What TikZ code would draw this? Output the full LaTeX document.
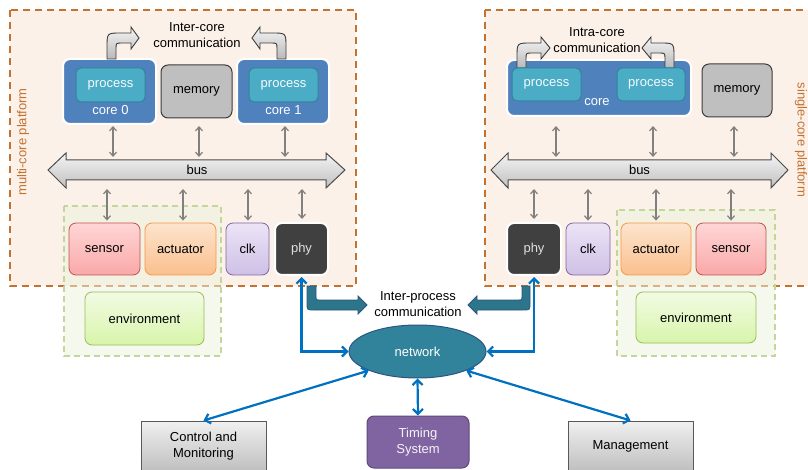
\documentclass[tikz,border=0pt]{standalone}
\usepackage{fontspec}
\setmainfont{Liberation Sans}
\usetikzlibrary{arrows.meta,shapes.geometric,calc}
\definecolor{platbg}{RGB}{252,241,233}
\definecolor{platline}{RGB}{196,114,48}
\definecolor{envline}{RGB}{195,214,155}
\definecolor{envbg}{RGB}{236,243,220}
\definecolor{coreblue}{RGB}{79,129,189}
\definecolor{procfill}{RGB}{75,172,198}
\definecolor{procline}{RGB}{49,133,155}
\definecolor{memfill}{RGB}{191,191,191}
\definecolor{darkline}{RGB}{60,60,60}
\definecolor{garrowc}{RGB}{128,128,128}
\definecolor{barrowc}{RGB}{0,112,192}
\definecolor{netfill}{RGB}{49,130,155}
\definecolor{netline}{RGB}{45,85,130}
\definecolor{senstop}{RGB}{255,214,214}
\definecolor{sensbot}{RGB}{250,168,168}
\definecolor{sensline}{RGB}{192,80,77}
\definecolor{acttop}{RGB}{253,228,205}
\definecolor{actbot}{RGB}{250,192,142}
\definecolor{actline}{RGB}{247,150,70}
\definecolor{clktop}{RGB}{236,228,246}
\definecolor{clkbot}{RGB}{206,192,230}
\definecolor{clkline}{RGB}{128,100,162}
\definecolor{phyfill}{RGB}{64,64,64}
\definecolor{envtop}{RGB}{242,251,228}
\definecolor{envbot}{RGB}{215,245,170}
\definecolor{envbline}{RGB}{155,187,89}
\definecolor{timfill}{RGB}{128,100,162}
\definecolor{timline}{RGB}{96,74,123}
\tikzset{
  sz/.style 2 args={minimum width=#1pt, minimum height=#2pt, inner sep=0pt},
  rbox/.style={rounded corners=7pt, align=center},
  corebox/.style={rbox, fill=coreblue, draw=white, line width=2pt, text=white},
  procbox/.style={rbox, rounded corners=5pt, fill=procfill, draw=procline, line width=1pt, text=white!95!procfill},
  membox/.style={rbox, fill=memfill, draw=darkline, line width=1pt},
  sensbox/.style={rbox, top color=senstop, bottom color=sensbot, draw=sensline, line width=0.8pt},
  actbox/.style={rbox, top color=acttop, bottom color=actbot, draw=actline, line width=0.8pt},
  clkbox/.style={rbox, top color=clktop, bottom color=clkbot, draw=clkline, line width=0.8pt},
  phybox/.style={rbox, fill=phyfill, draw=white, line width=2pt, text=black!12},
  envbox/.style={rbox, top color=envtop, bottom color=envbot, draw=envbline, line width=0.8pt},
  platform/.style={fill=platbg, draw=platline, line width=1.8pt, dash pattern=on 7pt off 5pt},
  envzone/.style={fill=envbg, fill opacity=0.5, draw=envline, draw opacity=1, line width=1.5pt, dash pattern=on 6pt off 4pt},
  garrow/.style={draw=garrowc, line width=1.2pt, {Straight Barb[length=4pt,width=7pt]}-{Straight Barb[length=4pt,width=7pt]}},
  barrow/.style={draw=barrowc, line width=2.2pt, {Straight Barb[length=5pt,width=10pt]}-{Straight Barb[length=5pt,width=10pt]}},
  curlyarrow/.style={draw=darkline, line width=0.9pt, top color=white!92!gray, bottom color=gray!55},
  busarrow/.style={draw=black!70, line width=1pt, top color=white!92!gray, bottom color=gray!50},
  iparrow/.style={fill=netfill!90!black, draw=netline, line width=0.8pt},
  graybox/.style={top color=black!6, bottom color=black!25, draw=black!65, line width=1pt, align=center},
}
\begin{document}
\begin{tikzpicture}[x=1pt,y=-1pt, font=\fontsize{13}{16}\selectfont]
\useasboundingbox (0,0) rectangle (808,470);
\fill[white] (0,0) rectangle (808,470);

% platforms
\path[platform] (10,10) rectangle (356,286);
\path[platform] (485,10) rectangle (818,286);
\node[rotate=90, text=platline] (lbl1) at (23,142) {multi-core platform};
\node[rotate=-90, text=platline] (lbl2) at (801,140) {single-core platform};

% environment zones
\path[envzone] (64,206) rectangle (221,356);
\path[envzone] (617,210) rectangle (775,356);

% ---------- left platform ----------
\node[align=center] (ictxt) at (197,35) {Inter-core\\communication};
\node[corebox, sz={93}{65}] (core0) at (109.5,91.5) {};
\node[corebox, sz={92}{65}] (core1) at (283,91.5) {};
\draw[curlyarrow] (107,59) -- (107,47) .. controls (107,33) .. (121,33) -- (131,33) -- (131,27) -- (139,38) -- (131,49) -- (131,43) -- (122,43) .. controls (116,43) .. (116,49) -- (116,59) -- cycle;
\draw[curlyarrow] (286,59) -- (286,47) .. controls (286,33) .. (272,33) -- (260,33) -- (260,27) -- (252,38) -- (260,49) -- (260,43) -- (271,43) .. controls (277,43) .. (277,49) -- (277,59) -- cycle;
\node[procbox, sz={69}{34}] (proc0) at (110.5,85) {process};
\node[procbox, sz={69}{34}] (proc1) at (283.5,85) {process};
\node[text=white] (c0lbl) at (110.5,110) {core 0};
\node[text=white] (c1lbl) at (283.5,110) {core 1};
\node[membox, sz={71}{53}] (mem1) at (196.5,91.5) {memory};

\draw[busarrow] (48,170) -- (66,153) -- (66,160) -- (326,160) -- (326,153) -- (345,170) -- (326,188) -- (326,180) -- (66,180) -- (66,188) -- cycle;
\node (bus1) at (197,170) {bus};

\node[sensbox, sz={71}{52}] (sen1) at (104.5,249) {sensor};
\node[actbox, sz={71}{52}] (act1) at (180.5,249) {actuator};
\node[clkbox, sz={43}{52}] (clk1) at (247.5,249) {clk};
\node[phybox, sz={53}{52}] (phy1) at (301.5,249) {phy};
\node[envbox, sz={119}{53}] (env1) at (144.5,318.5) {environment};

\coordinate (ct) at (0,126);
\coordinate (bt1) at (0,157);
\coordinate (bb1) at (0,189);
\draw[garrow] ([xshift=3.5pt]core0.south |- ct) -- ([xshift=3.5pt]core0.south |- bt1);
\draw[garrow] ([xshift=2.5pt]mem1.south |- ct) -- ([xshift=2.5pt]mem1.south |- bt1);
\draw[garrow] ([xshift=2pt]core1.south |- ct) -- ([xshift=2pt]core1.south |- bt1);
\draw[garrow] ([xshift=2.5pt]sen1.north |- bb1) -- ([xshift=2.5pt,yshift=2pt]sen1.north);
\draw[garrow] ([xshift=2.5pt]act1.north |- bb1) -- ([xshift=2.5pt,yshift=2pt]act1.north);
\draw[garrow] ([xshift=0.5pt]clk1.north |- bb1) -- ([xshift=0.5pt,yshift=2pt]clk1.north);
\draw[garrow] ([xshift=0.5pt]phy1.north |- bb1) -- ([xshift=0.5pt,yshift=3pt]phy1.north);

% ---------- right platform ----------
\node[align=center] (intxt) at (597,40) {Intra-core\\communication};
\node[corebox, sz={184}{56}] (core2) at (599,88) {};
\draw[curlyarrow] (517,68) -- (517,57) .. controls (517,43) .. (531,43) -- (541,43) -- (541,37) -- (550,48) -- (541,59) -- (541,53) -- (532,53) .. controls (526,53) .. (526,59) -- (526,68) -- cycle;
\draw[curlyarrow] (674,68) -- (674,57) .. controls (674,43) .. (660,43) -- (651,43) -- (651,37) -- (642,48) -- (651,59) -- (651,53) -- (659,53) .. controls (665,53) .. (665,59) -- (665,68) -- cycle;
\node[procbox, sz={69}{33}] (procA) at (546.5,84.5) {process};
\node[procbox, sz={68}{33}] (procB) at (651,84.5) {process};
\node[text=white] (c2lbl) at (597,102) {core};
\node[membox, sz={70}{53}] (mem2) at (737,90.5) {memory};

\draw[busarrow] (491,170) -- (508,153) -- (508,160) -- (771,160) -- (771,153) -- (788,170) -- (771,188) -- (771,180) -- (508,180) -- (508,188) -- cycle;
\node (bus2) at (639.5,170) {bus};

\node[phybox, sz={54}{52}] (phy2) at (534,249) {phy};
\node[clkbox, sz={44}{52}] (clk2) at (588,249) {clk};
\node[actbox, sz={70}{52}] (act2) at (656,249) {actuator};
\node[sensbox, sz={70}{52}] (sen2) at (731,249) {sensor};
\node[envbox, sz={120}{51}] (env2) at (696,317.5) {environment};

\draw[garrow] ([xshift=9.5pt]procA.south |- ct) -- ([xshift=9.5pt]procA.south |- bt1);
\draw[garrow] ([xshift=2pt]procB.south |- ct) -- ([xshift=2pt]procB.south |- bt1);
\draw[garrow] ([xshift=-3pt]mem2.south |- ct) -- ([xshift=-3pt]mem2.south |- bt1);
\draw[garrow] (phy2.north |- bb1) -- ([yshift=3pt]phy2.north);
\draw[garrow] (clk2.north |- bb1) -- ([yshift=2pt]clk2.north);
\draw[garrow] (act2.north |- bb1) -- ([yshift=2pt]act2.north);
\draw[garrow] (sen2.north |- bb1) -- ([yshift=2pt]sen2.north);

% ---------- network ----------
\node[ellipse, fill=netfill, draw=netline, line width=1pt, minimum width=137pt, minimum height=53pt, inner sep=0pt, text=white] (net) at (417.5,351.5) {network};
\node[align=center] (iptxt) at (418,304) {Inter-process\\communication};

\draw[iparrow] (307,286) -- (307,303) .. controls (307,310) .. (314,310) -- (358,310) -- (358,314) -- (367,305) -- (358,296) -- (358,300) -- (319,300) .. controls (316,300) .. (316,297) -- (316,286) -- cycle;
\draw[iparrow] (530,286) -- (530,303) .. controls (530,310) .. (523,310) -- (477,310) -- (477,314) -- (468,305) -- (477,296) -- (477,300) -- (519,300) .. controls (522,300) .. (522,297) -- (522,286) -- cycle;

\draw[barrow] ([yshift=-1pt]phy1.south) -- (phy1.south |- net.west) -- (net.west);
\draw[barrow] ([yshift=-1pt]phy2.south) -- (phy2.south |- net.east) -- (net.east);

\node[graybox, sz={125}{50}] (ctrl) at (203.5,446) {Control and\\Monitoring};
\node[rbox, fill=timfill, draw=timline, line width=1pt, text=white!92!timfill, sz={102}{52}] (tim) at (418,442) {Timing\\System};
\node[graybox, sz={125}{50}] (mgmt) at (630.5,446) {Management};

\draw[barrow] (net.south west) -- (ctrl.north);
\draw[barrow] (net.south) -- (tim.north);
\draw[barrow] (net.south east) -- (mgmt.north);
\end{tikzpicture}
\end{document}
